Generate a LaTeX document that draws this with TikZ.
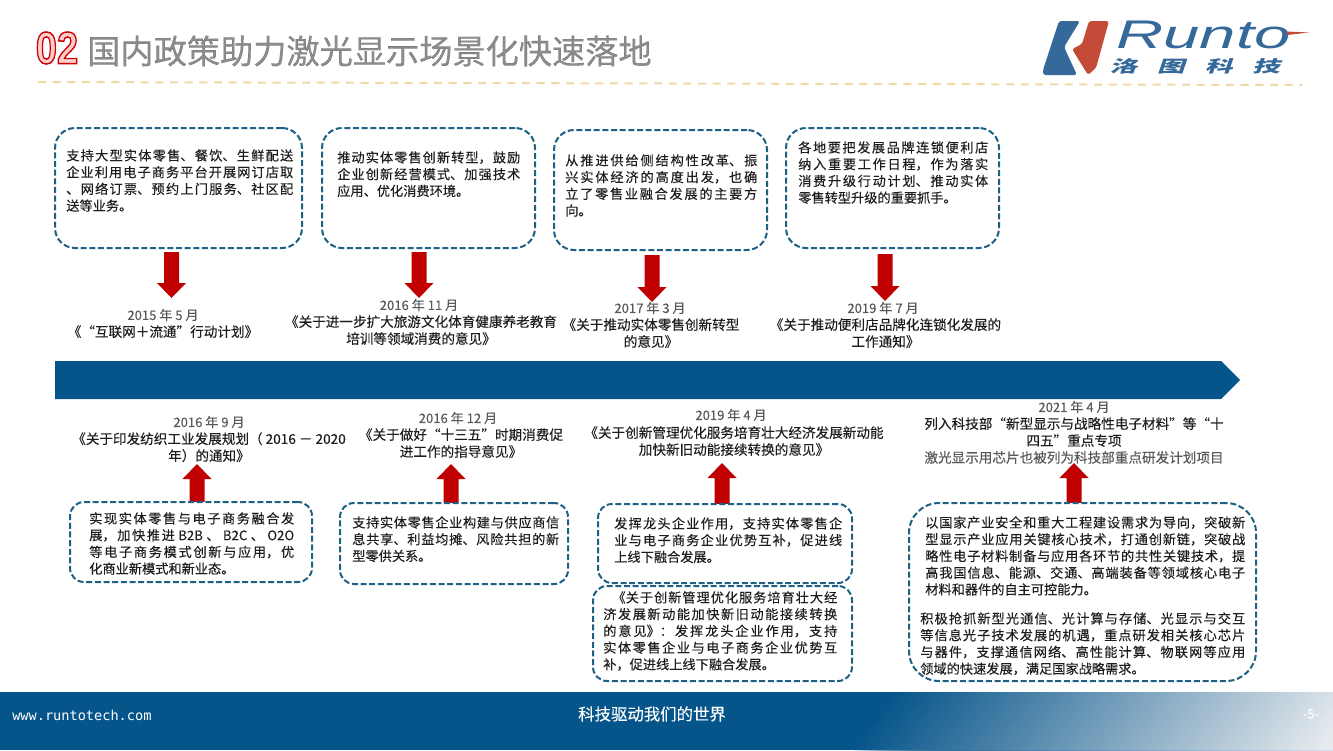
\documentclass[tikz,border=0pt]{standalone}
\usepackage{fontspec}
\setmainfont[FakeBold=0.12]{Noto Sans CJK SC}
\newfontfamily\logocjk{Noto Sans CJK SC}
\newfontfamily\latinsans{Liberation Sans}
\newfontfamily\monofam{DejaVu Sans Mono}
\usetikzlibrary{calc}
\XeTeXlinebreaklocale "zh"
\XeTeXlinebreakskip=0pt plus 4pt minus 0.3pt
\tolerance=10000 \hbadness=10000 \hfuzz=20pt
\definecolor{bandblue}{HTML}{06558A}
\definecolor{footfade}{HTML}{E6EAEE}
\definecolor{dashblue}{HTML}{1F6085}
\definecolor{arrowred}{HTML}{C00000}
\definecolor{bodytext}{HTML}{1E1E1E}
\definecolor{datetext}{HTML}{595959}
\definecolor{dashtan}{HTML}{F0D8A8}
\definecolor{logoblue}{HTML}{34699A}
\definecolor{logored}{HTML}{C24A36}
\tikzset{
  infobox/.style={draw=dashblue,line width=1.5pt,dash pattern=on 4.5pt off 2pt,fill=white,inner sep=0pt},
  bodyblock/.style={anchor=north west,inner sep=0pt,align=justify,text=bodytext,font=\fontsize{9.9}{12.55}\selectfont},
  labelblock/.style={anchor=north,inner sep=0pt,align=center,text=bodytext,font=\fontsize{10.2}{12.7}\selectfont},
  datelabel/.style={inner sep=0pt,text=datetext,font=\fontsize{9.8}{12}\selectfont},
  blockarrow/.style={fill=arrowred,draw=none}
}
\newcommand{\ibox}[6]{%
  \pgfmathsetmacro{\wpt}{(#4-#2)*0.75}\pgfmathsetmacro{\hpt}{(#5-#3)*0.75}%
  \node[infobox,rounded corners=#6*0.75pt,minimum width=\wpt pt,minimum height=\hpt pt] (#1) at ({(#2+#4)/2},{(#3+#5)/2}) {};}
\newcommand{\tblock}[5]{%
  \pgfmathsetmacro{\wpt}{(#3-#2)*0.75}%
  \node[bodyblock,text width=\wpt pt] (#1) at (#2,#4-6) {#5};}
\newcommand{\darrow}[4]{% cx, top, headbase, tip
  \fill[blockarrow] (#1-7.5,#2) -- (#1+7.5,#2) -- (#1+7.5,#3) -- (#1+14.5,#3) -- (#1,#4) -- (#1-14.5,#3) -- (#1-7.5,#3) -- cycle;}
\newcommand{\br}{\linebreak[4]}
\begin{document}
\begin{tikzpicture}[x=0.75pt,y=-0.75pt]
\useasboundingbox (0,0) rectangle (1333,750);
\fill[white] (0,0) rectangle (1333,750);

% header
\node[inner sep=0pt,anchor=center,xscale=.84,transform shape,font=\latinsans\bfseries\fontsize{34}{36}\selectfont] (num) at (57,48)
  {\special{pdf:code q 2 Tr 1.1 w 0.8 0 0 RG 1 0.8 0.8 rg}02\special{pdf:code Q}};
\node[inner sep=0pt,anchor=west,font=\fontsize{24.9}{28}\selectfont] (title) at (87,51)
  {\special{pdf:code q 2 Tr 0.9 w 0.33 0.33 0.33 RG 0.55 0.55 0.55 rg}国内政策助力激光显示场景化快速落地\special{pdf:code Q}};
\coordinate (ruleL) at (38,82); \coordinate (ruleR) at (1302,85);
\draw[dashtan,line width=1.5pt,dash pattern=on 6pt off 5pt] (ruleL) -- (ruleR);

% logo
\fill[logoblue,rounded corners=2pt] (1059,21) -- (1080,21) -- (1064,47) -- (1077,75) -- (1043,75) -- (1043,70) -- cycle;
\fill[logored,rounded corners=2pt] (1089,21) -- (1109,21) -- (1096,68) -- (1088,75) -- (1072,49) -- (1082,44) -- cycle;
\node[inner sep=0pt,anchor=west,text=logoblue,xscale=1.63,transform shape,text height=17pt,text depth=0pt,font=\latinsans\itshape\fontsize{30}{32}\selectfont] (runto) at (1116,37) {Runto};
\fill[logored] (1287,31.5) -- (1309,32.5) -- (1287,35) -- cycle;
\node[inner sep=0pt,anchor=west,text=logoblue,xscale=1.7,xslant=.2,transform shape,text height=9pt,text depth=1pt,font=\logocjk\bfseries\fontsize{12.2}{14}\selectfont] (cn) at (1111,67) {洛\hspace{.72em}图\hspace{.72em}科\hspace{.72em}技};

% top boxes
\ibox{b1}{55}{128}{302}{248}{20}
\ibox{b2}{322}{128}{535}{248}{20}
\ibox{b3}{554}{130}{767}{250}{20}
\ibox{b4}{786}{128}{999}{248}{20}
\tblock{t1}{66}{293}{155}{支持大型实体零售、餐饮、生鲜配送\br 企业利用电子商务平台开展网订店取\br 、网络订票、预约上门服务、社区配\br 送等业务。}
\tblock{t2}{337}{520}{157}{推动实体零售创新转型，鼓励\br 企业创新经营模式、加强技术\br 应用、优化消费环境。}
\tblock{t3}{565}{757}{160}{从推进供给侧结构性改革、振\br 兴实体经济的高度出发，也确\br 立了零售业融合发展的主要方\br 向。}
\tblock{t4}{798}{988}{147}{各地要把发展品牌连锁便利店\br 纳入重要工作日程，作为落实\br 消费升级行动计划、推动实体\br 零售转型升级的重要抓手。}

\darrow{171.5}{252}{283}{298}
\darrow{419}{252}{283}{298}
\darrow{652}{255}{287}{302}
\darrow{885}{254}{286}{301}

\node[datelabel] (d1) at (163,315) {2015 年 5 月};
\node[labelblock] (l1) at (163,325) {《“互联网＋流通”行动计划》};
\node[datelabel] (d2) at (419,305) {2016 年 11 月};
\node[labelblock] (l2) at (421,315) {《关于进一步扩大旅游文化体育健康养老教育\\培训等领域消费的意见》};
\node[datelabel] (d3) at (650,308) {2017 年 3 月};
\node[labelblock] (l3) at (651,318) {《关于推动实体零售创新转型\\的意见》};
\node[datelabel] (d4) at (883,308) {2019 年 7 月};
\node[labelblock] (l4) at (885.5,318) {《关于推动便利店品牌化连锁化发展的\\工作通知》};

% timeline band
\fill[bandblue] (55,361) -- (1221,361) -- (1240,380) -- (1221,399) -- (55,399) -- cycle;

% lower labels
\node[datelabel] (d5) at (209,422) {2016 年 9 月};
\node[labelblock] (l5) at (209,432) {《关于印发纺织工业发展规划（ 2016 － 2020\\年）的通知》};
\node[datelabel] (d6) at (458,418) {2016 年 12 月};
\node[labelblock] (l6) at (461,428) {《关于做好“十三五”时期消费促\\进工作的指导意见》};
\node[datelabel] (d7) at (731,415) {2019 年 4 月};
\node[labelblock] (l7) at (734,426) {《关于创新管理优化服务培育壮大经济发展新动能\\加快新旧动能接续转换的意见》};
\node[datelabel] (d8) at (1074,407) {2021 年 4 月};
\node[labelblock] (l8) at (1074,417) {列入科技部“新型显示与战略性电子材料”等“十\\四五”重点专项\\\textcolor{datetext}{激光显示用芯片也被列为科技部重点研发计划项目}};

\darrow{197}{506}{479}{464}
\darrow{451}{506}{479}{464}
\darrow{722}{505}{478}{463}
\darrow{1074}{505}{478}{463}

% lower boxes
\ibox{b5}{70}{502}{312}{582}{14}
\ibox{b6}{340}{503}{568}{584}{14}
\ibox{b7}{598}{504}{852}{583}{14}
\ibox{b8}{593}{586}{852}{681}{14}
\ibox{b9}{909}{503}{1256}{681}{30}
\tblock{t5}{89}{294}{518}{实现实体零售与电子商务融合发\br 展，加快推进 B2B 、 B2C 、 O2O\br 等电子商务模式创新与应用，优\br 化商业新模式和新业态。}
\tblock{t6}{352}{559}{522}{支持实体零售企业构建与供应商信\br 息共享、利益均摊、风险共担的新\br 型零供关系。}
\tblock{t7}{614}{842}{523}{发挥龙头企业作用，支持实体零售企\br 业与电子商务企业优势互补，促进线\br 上线下融合发展。}
\tblock{t8}{603}{837}{597}{\hspace*{.7em}《关于创新管理优化服务培育壮大经\br 济发展新动能加快新旧动能接续转换\br 的意见》：发挥龙头企业作用，支持\br 实体零售企业与电子商务企业优势互\br 补，促进线上线下融合发展。}
\tblock{t9}{925}{1245}{522}{以国家产业安全和重大工程建设需求为导向，突破新\br 型显示产业应用关键核心技术，打通创新链，突破战\br 略性电子材料制备与应用各环节的共性关键技术，提\br 高我国信息、能源、交通、高端装备等领域核心电子\br 材料和器件的自主可控能力。}
\tblock{t10}{920}{1245}{618}{积极抢抓新型光通信、光计算与存储、光显示与交互\br 等信息光子技术发展的机遇，重点研发相关核心芯片\br 与器件，支撑通信网络、高性能计算、物联网等应用\br 领域的快速发展，满足国家战略需求。}

% footer: slanted fade built from overlapping strips
\begin{scope}
\clip (0,692) rectangle (1333,750);
\fill[bandblue] (0,692) rectangle (1333,750);
\foreach \i in {1,...,100} {
  \pgfmathsetmacro{\xb}{850+\i*4.7}
  \pgfmathsetmacro{\xt}{\xb+42}
  \pgfmathtruncatemacro{\mixv}{\i}
  \fill[footfade!\mixv!bandblue] (\xt,692) -- (1400,692) -- (1400,750) -- (\xb,750) -- cycle;
}
\end{scope}
\node[inner sep=0pt,anchor=west,text=white,font=\monofam\fontsize{10.2}{12}\selectfont] (url) at (12,715) {www.runtotech.com};
\node[inner sep=0pt,text=white,font=\fontsize{12.3}{14}\selectfont] (slogan) at (652,714) {科技驱动我们的世界};
\node[inner sep=0pt,text=white,font=\fontsize{9.5}{12}\selectfont] (page) at (1311,714) {-5-};
\end{tikzpicture}
\end{document}
